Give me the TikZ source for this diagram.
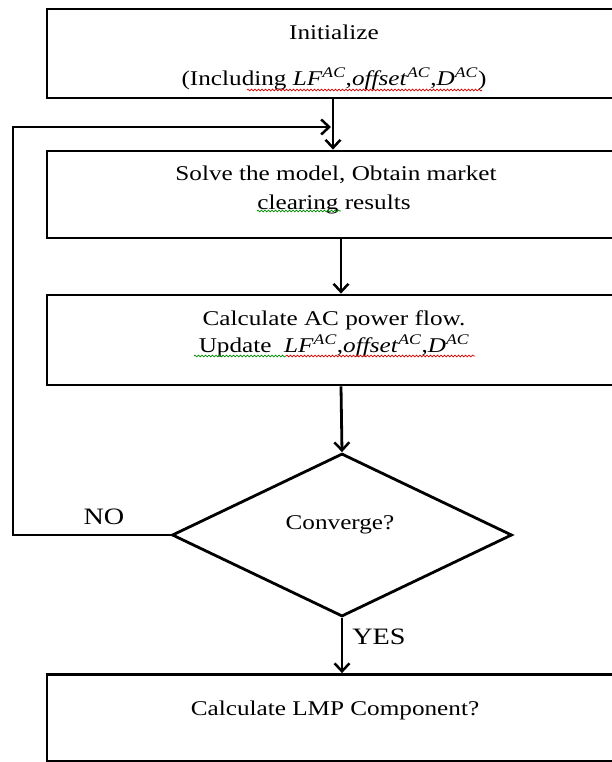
\documentclass[tikz,border=0pt]{standalone}
\usepackage{fontspec}
\setmainfont[FakeStretch=1.2]{Liberation Serif}
\usetikzlibrary{arrows.meta,shapes.geometric,decorations.pathmorphing}
\newcommand{\acv}[1]{\textit{#1}\textsuperscript{\textit{AC}}}
\tikzset{
  boxshape/.style={draw, line width=2.8pt, minimum width=586pt, inner sep=0pt},
  lbl/.style={font=\fontsize{21}{24}\selectfont, inner sep=0pt, anchor=center},
  biglbl/.style={font=\fontsize{23.5}{26}\selectfont, inner sep=0pt, anchor=center},
  arr/.style={line width=2.8pt, -{Straight Barb[length=8pt,width=15pt,line width=2.5pt]}},
  redsq/.style={draw=red!85!black, line width=0.7pt, decorate, decoration={snake, amplitude=0.9pt, segment length=3.5pt}},
  greensq/.style={draw=green!55!black, line width=0.7pt, decorate, decoration={snake, amplitude=0.9pt, segment length=3.5pt}}
}
\begin{document}
\begin{tikzpicture}[x=1pt,y=-1pt]
\useasboundingbox (0,0) rectangle (612,762);
\fill[white] (0,0) rectangle (612,762);
\clip (0,0) rectangle (612,762);
% boxes
\node[boxshape, minimum height=89pt] (b1) at (340,53.5) {};
\node[boxshape, minimum height=87pt] (b2) at (340,194.5) {};
\node[boxshape, minimum height=90pt] (b3) at (340,340) {};
\node[boxshape, minimum height=87pt] (b4) at (340,718) {};
\node[draw, diamond, line width=2.8pt, minimum width=340pt, minimum height=163pt, inner sep=0pt] (dia) at (342,535) {};
% texts
\node[lbl] (t1a) at (334,32) {Initialize};
\node[lbl] (t1b) at (334,79) {(Including \acv{LF},\acv{offset},\acv{D})};
\node[lbl] (t2a) at (336,175) {Solve the model, Obtain market};
\node[lbl] (t2b) at (334,204) {clearing results};
\node[lbl] (t3a) at (334,320) {Calculate AC power flow.};
\node[lbl] (t3b) at (334,346) {Update\ \ \acv{LF},\acv{offset},\acv{D}};
\node[lbl] (tc) at (340,525) {Converge?};
\node[lbl] (t4) at (335,710) {Calculate LMP Component?};
\node[biglbl] (no) at (104,517) {NO};
\node[biglbl] (yes) at (379,637) {YES};
% connectors
\coordinate (loop) at (13,127);
\coordinate (merge) at (331,127);
\draw[arr] ([xshift=-7pt]b1.south) -- ([xshift=-7pt]b2.north);
\draw[arr] (dia.west) -| (loop) -- (merge);
\draw[arr] ([xshift=1pt]b2.south) -- ([xshift=1pt]b3.north);
\draw[arr] ([xshift=1pt]b3.south) -- (dia.north);
\draw[arr] (dia.south) -- (b4.north -| dia.south);
% spell-check squiggles
\draw[redsq] (247,90) -- (482,90);
\draw[greensq] (257,211) -- (341,211);
\draw[greensq] (194,356) -- (286,356);
\draw[redsq] (286,356) -- (475,356);
\end{tikzpicture}
\end{document}
